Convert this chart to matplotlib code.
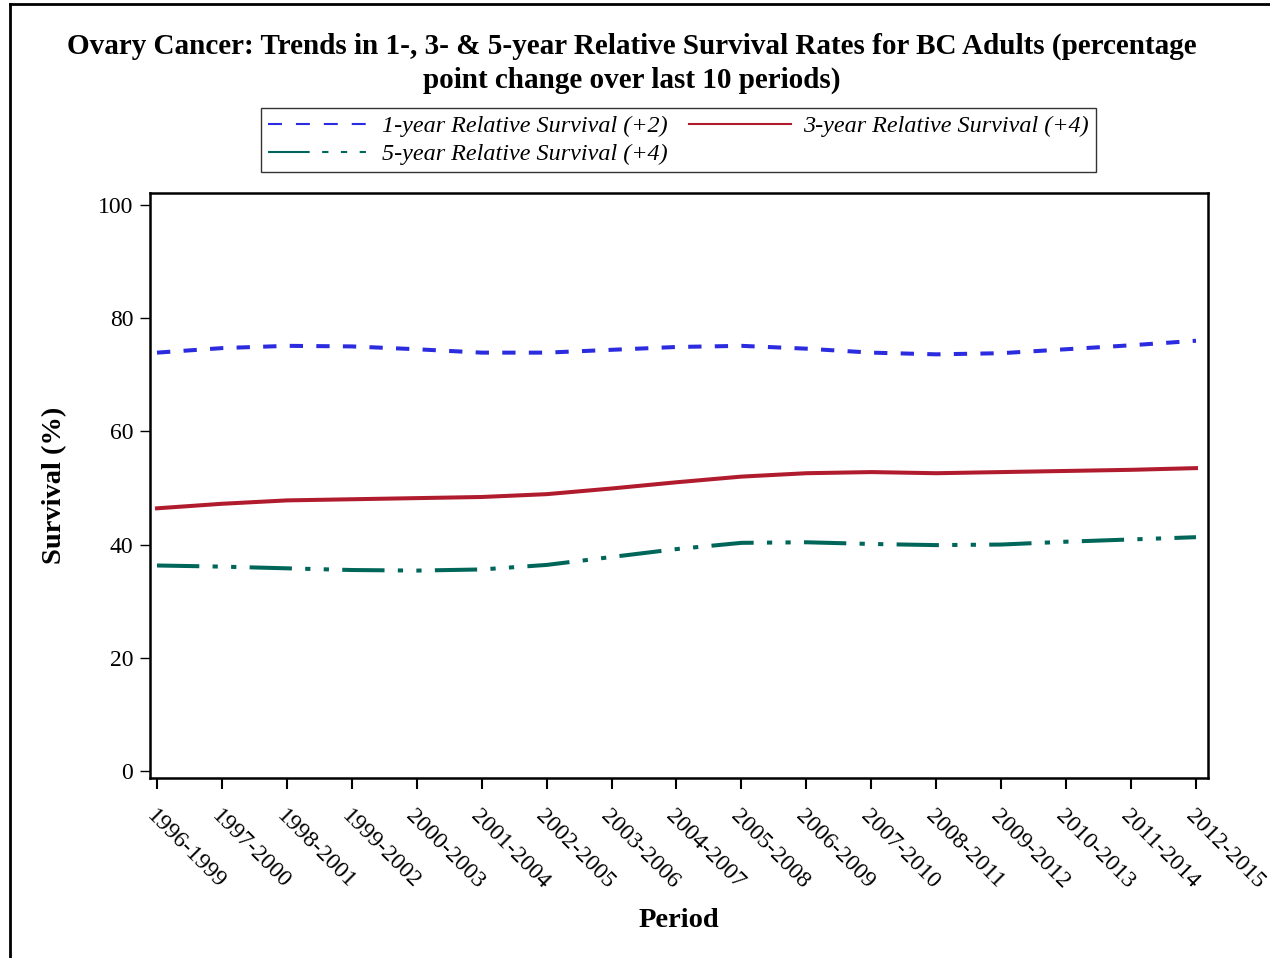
import matplotlib
matplotlib.use("Agg")
import matplotlib.pyplot as plt
from matplotlib.lines import Line2D

periods = [
    "1996-1999", "1997-2000", "1998-2001", "1999-2002", "2000-2003", "2001-2004",
    "2002-2005", "2003-2006", "2004-2007", "2005-2008", "2006-2009", "2007-2010",
    "2008-2011", "2009-2012", "2010-2013", "2011-2014", "2012-2015",
]
surv_1yr = [73.9, 74.7, 75.1, 75.0, 74.5, 73.9, 73.9, 74.4, 74.9, 75.1,
            74.6, 73.9, 73.6, 73.8, 74.5, 75.2, 76.0]
surv_3yr = [46.4, 47.2, 47.8, 48.0, 48.2, 48.4, 48.9, 49.9, 51.0, 52.0,
            52.6, 52.8, 52.6, 52.8, 53.0, 53.2, 53.5]
surv_5yr = [36.3, 36.1, 35.8, 35.5, 35.4, 35.6, 36.4, 37.8, 39.2, 40.3,
            40.4, 40.1, 39.9, 40.0, 40.5, 40.9, 41.3]
labels = [
    "1-year Relative Survival (+2)",
    "3-year Relative Survival (+4)",
    "5-year Relative Survival (+4)",
]

plt.rcParams["font.family"] = ["Liberation Serif", "DejaVu Serif"]

fig = plt.figure(figsize=(12.7, 9.58), dpi=100)
ax = fig.add_axes([150 / 1270, 1 - 778 / 958, 1058 / 1270, 585 / 958])

x = list(range(len(periods)))
lw = 2.9
c1, c3, c5 = "#2b2be0", "#b01c2e", "#00665a"
ax.plot(x, surv_1yr, color=c1, lw=lw, linestyle=(0, (3.3, 3.3)))
ax.plot(x, surv_3yr, color=c3, lw=lw, linestyle="-")
ax.plot(x, surv_5yr, color=c5, lw=lw,
        linestyle=(0, (10.5, 3.3, 1.3, 3.3, 1.3, 3.3)))

ax.set_xlim(-0.108, 16.185)
ax.set_ylim(-1.24, 102.1)
ax.set_yticks([0, 20, 40, 60, 80, 100])
ax.set_xticks(x)
ax.set_xticklabels(periods, rotation=-45, ha="left", va="top",
                   rotation_mode="anchor")
ax.tick_params(axis="y", labelsize=17, length=7, width=1, pad=5)
ax.tick_params(axis="x", labelsize=17, length=8, width=1.5, pad=12)
for s in ax.spines.values():
    s.set_linewidth(1.8)

ax.set_ylabel("Survival (%)", fontsize=20.5, fontweight="bold")
ax.yaxis.set_label_coords(-0.078, 0.5)
ax.set_xlabel("Period", fontsize=20.5, fontweight="bold")
ax.xaxis.set_label_coords(0.5, -0.222)

fig.suptitle("Ovary Cancer: Trends in 1-, 3- & 5-year Relative Survival Rates for BC Adults (percentage\n"
             "point change over last 10 periods)",
             fontsize=21, fontweight="bold", x=632 / 1270, y=1 - 33 / 958,
             va="top", linespacing=1.3)

h1 = Line2D([], [], color=c1, lw=1.5, linestyle=(0, (6.7, 6.7)))
h3 = Line2D([], [], color=c3, lw=1.5)
h5 = Line2D([], [], color=c5, lw=1.5, linestyle=(0, (20, 6, 3, 6, 3, 6, 3, 6)))
leg = fig.legend([h1, h5, h3], [labels[0], labels[2], labels[1]], ncol=2,
                 loc="upper left", bbox_to_anchor=(261 / 1270, 1 - 108 / 958),
                 prop={"style": "italic", "size": 17.4}, frameon=True,
                 fancybox=False, edgecolor="black", handlelength=4.2,
                 columnspacing=0.9, handletextpad=0.5, borderpad=0.3,
                 borderaxespad=0, labelspacing=0.25)
leg.get_frame().set_linewidth(1.0)

# outer border (left and top only)
fig.add_artist(Line2D([10 / 1270, 10 / 1270], [0, 1 - 4 / 958], color="black",
                      lw=2, transform=fig.transFigure))
fig.add_artist(Line2D([10 / 1270, 1], [1 - 4 / 958, 1 - 4 / 958], color="black",
                      lw=2, transform=fig.transFigure))

fig.savefig("out.png", dpi=100, facecolor="white")
